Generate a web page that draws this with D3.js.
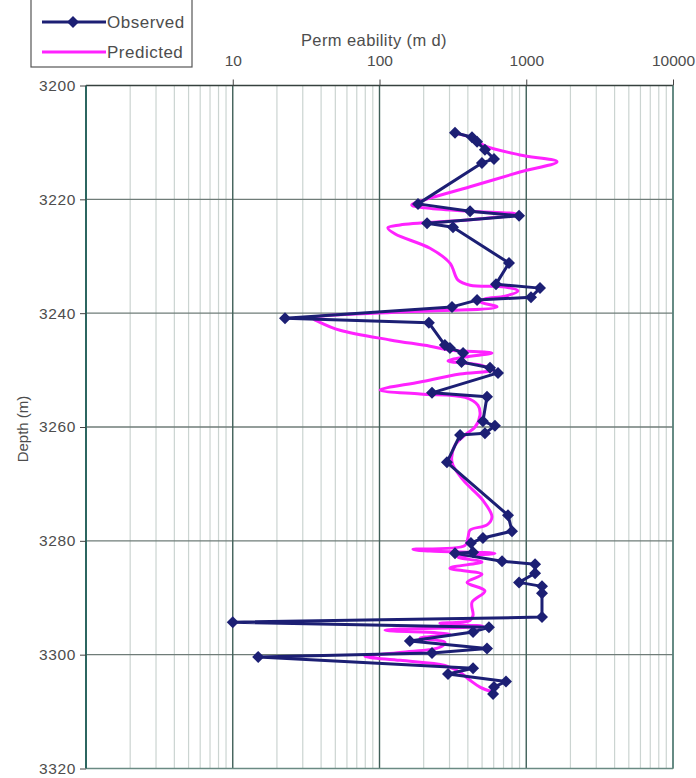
<!DOCTYPE html>
<html>
<head>
<meta charset="utf-8">
<script src="https://cdn.jsdelivr.net/npm/d3@7"></script>
<style>
  html, body { margin: 0; padding: 0; background: #fff; }
  svg { display: block; font-family: "Liberation Sans", Arial, sans-serif; }
</style>
</head>
<body>
<svg id="chart" width="696" height="778"></svg>
<script>
// Observed core permeability (md) against depth (m)
const obsDepth = [3208.3, 3209.1, 3209.9, 3211.3, 3212.9, 3213.6, 3220.8, 3222.1, 3222.9, 3224.2,
  3224.9, 3231.2, 3234.9, 3235.6, 3237.2, 3237.7, 3238.9, 3240.9, 3241.7, 3245.6,
  3246.1, 3247.0, 3248.6, 3249.6, 3250.5, 3254.0, 3254.7, 3259.0, 3259.8, 3261.1,
  3261.4, 3266.2, 3275.5, 3278.3, 3279.5, 3280.4, 3282.0, 3282.2, 3283.6, 3284.1,
  3285.7, 3287.3, 3288.0, 3289.2, 3293.4, 3294.3, 3295.2, 3296.0, 3297.6, 3298.9,
  3299.7, 3300.4, 3302.4, 3303.4, 3304.7, 3305.7, 3306.9];
const obsPerm = [327, 427, 462, 523, 603, 499, 183, 414, 893, 211,
  317, 763, 622, 1241, 1077, 462, 312, 22.7, 217, 279,
  302, 371, 362, 566, 642, 228, 540, 507, 612, 523,
  354, 288, 751, 800, 507, 420, 434, 327, 684, 1148,
  1148, 893, 1280, 1280, 1280, 10.0, 557, 434, 161, 540,
  228, 14.9, 434, 293, 728, 603, 594];

// Predicted permeability log (md) against depth (m)
const predDepth = [3208.5, 3209.2, 3210.6, 3212.2, 3213.4, 3215.2, 3217.8, 3219.8, 3221.0, 3221.5,
  3222.1, 3222.6, 3223.6, 3224.5, 3225.0, 3226.1, 3228.6, 3231.2, 3234.2, 3235.1,
  3235.4, 3236.1, 3237.0, 3237.5, 3238.0, 3238.9, 3239.8, 3240.9, 3241.6, 3243.0,
  3244.7, 3245.8, 3246.5, 3247.0, 3247.7, 3248.4, 3249.1, 3250.0, 3250.7, 3252.1,
  3253.5, 3254.2, 3254.8, 3256.2, 3257.9, 3260.0, 3261.4, 3263.2, 3266.2, 3269.3,
  3272.9, 3275.8, 3277.2, 3278.1, 3279.4, 3280.8, 3281.5, 3281.8, 3282.2, 3282.9,
  3283.7, 3284.8, 3285.9, 3287.3, 3288.8, 3290.8, 3293.1, 3294.0, 3294.5, 3295.0,
  3295.7, 3296.4, 3297.1, 3297.8, 3298.7, 3299.6, 3300.3, 3301.0, 3301.9, 3303.1,
  3304.5, 3305.7, 3306.6];
const predPerm = [343, 427, 523, 906, 1621, 906, 414, 221, 166, 204,
  414, 865, 414, 138, 114, 128, 221, 302, 343, 414,
  717, 879, 717, 523, 484, 632, 138, 35.2, 39.3, 53.8,
  118, 221, 302, 584, 383, 293, 484, 584, 354, 189,
  101, 189, 383, 469, 484, 448, 383, 327, 312, 371,
  507, 584, 540, 414, 401, 383, 169, 221, 612, 343,
  499, 302, 499, 395, 523, 427, 434, 414, 258, 507,
  109, 302, 189, 279, 258, 138, 79.6, 138, 279, 354,
  414, 484, 594];

// Axis ticks
const depthTicks = [3200, 3220, 3240, 3260, 3280, 3300, 3320];
const permTicks = [10, 100, 1000, 10000];
const permTickLabels = ["10", "100", "1000", "10000"];

const seriesNames = ["Observed", "Predicted"];

const svg = d3.select("#chart");
const plotLeft = 86, plotRight = 673, plotTop = 85.5, plotBottom = 768.5;

const x = d3.scaleLog().domain([1, 10000]).range([plotLeft, plotRight]);
const y = d3.scaleLinear().domain([3200, 3320]).range([plotTop, plotBottom]);

const obsColor = "#1c1f74";
const predColor = "#ff22ff";
const textColor = "#4d4d4d";

// Minor vertical gridlines (2..9 within each decade)
const minor = [];
for (let k = 0; k < 4; k++) for (let m = 2; m <= 9; m++) minor.push(m * Math.pow(10, k));
svg.append("g").selectAll("line").data(minor).join("line")
  .attr("x1", d => x(d)).attr("x2", d => x(d))
  .attr("y1", plotTop).attr("y2", plotBottom)
  .attr("stroke", "#cbd4d1").attr("stroke-width", 1.2);

// Horizontal gridlines
svg.append("g").selectAll("line").data(depthTicks.slice(1, -1)).join("line")
  .attr("x1", plotLeft).attr("x2", plotRight)
  .attr("y1", d => y(d)).attr("y2", d => y(d))
  .attr("stroke", "#6f7c78").attr("stroke-width", 1.3);

// Major vertical gridlines
svg.append("g").selectAll("line").data(permTicks).join("line")
  .attr("x1", d => x(d)).attr("x2", d => x(d))
  .attr("y1", plotTop).attr("y2", plotBottom)
  .attr("stroke", "#3f5f58").attr("stroke-width", 1.4);

// Frame
svg.append("line").attr("x1", plotLeft).attr("x2", plotRight).attr("y1", plotTop).attr("y2", plotTop)
  .attr("stroke", "#36413e").attr("stroke-width", 1.6);
svg.append("line").attr("x1", plotLeft).attr("x2", plotRight).attr("y1", plotBottom).attr("y2", plotBottom)
  .attr("stroke", "#6a8a83").attr("stroke-width", 1.6);
svg.append("line").attr("x1", plotLeft).attr("x2", plotLeft).attr("y1", plotTop).attr("y2", plotBottom)
  .attr("stroke", "#2c6660").attr("stroke-width", 2);
svg.append("line").attr("x1", plotRight).attr("x2", plotRight).attr("y1", plotTop).attr("y2", plotBottom)
  .attr("stroke", "#5f8a82").attr("stroke-width", 1.4);

// Left depth axis
const yAxis = d3.axisLeft(y).tickValues(depthTicks).tickSize(6).tickPadding(4).tickFormat(d3.format("d"));
const gy = svg.append("g").attr("transform", `translate(${plotLeft},0)`).call(yAxis);
gy.select(".domain").remove();
gy.selectAll("line").attr("stroke", "#444");
gy.selectAll("text").attr("fill", textColor).style("font-size", "15.5px")
  .attr("font-family", "Liberation Sans, Arial, sans-serif").attr("letter-spacing", "0.6");

// Top permeability axis
const xAxis = d3.axisTop(x).tickValues(permTicks).tickSize(6).tickPadding(14)
  .tickFormat((d, i) => permTickLabels[i]);
const gx = svg.append("g").attr("transform", `translate(0,${plotTop})`).call(xAxis);
gx.select(".domain").remove();
gx.selectAll("line").attr("stroke", "#444");
gx.selectAll("text").attr("fill", textColor).style("font-size", "15.5px")
  .attr("font-family", "Liberation Sans, Arial, sans-serif");

// Axis titles
svg.append("text").attr("x", 374).attr("y", 46).attr("text-anchor", "middle")
  .attr("fill", textColor).style("font-size", "16.5px").attr("letter-spacing", "0.4")
  .text("Perm eability (m d)");
svg.append("text").attr("transform", `translate(28,${(plotTop + plotBottom) / 2 + 2}) rotate(-90)`)
  .attr("text-anchor", "middle").attr("fill", textColor).style("font-size", "15px").text("Depth (m)");

// Series
const obs = obsDepth.map((d, i) => ({ depth: d, perm: obsPerm[i] }));
const pred = predDepth.map((d, i) => ({ depth: d, perm: predPerm[i] }));

const predLine = d3.line().x(d => x(d.perm)).y(d => y(d.depth)).curve(d3.curveCatmullRom.alpha(0.5));
const obsLine = d3.line().x(d => x(d.perm)).y(d => y(d.depth));

svg.append("path").datum(pred).attr("d", predLine)
  .attr("fill", "none").attr("stroke", predColor).attr("stroke-width", 3).attr("stroke-linejoin", "round");
svg.append("path").datum(obs).attr("d", obsLine)
  .attr("fill", "none").attr("stroke", obsColor).attr("stroke-width", 3).attr("stroke-linejoin", "round");

const marker = d3.symbol(d3.symbolSquare, 72);
svg.append("g").selectAll("path").data(obs).join("path")
  .attr("d", marker)
  .attr("transform", d => `translate(${x(d.perm)},${y(d.depth)}) rotate(45)`)
  .attr("fill", obsColor);

// Legend
const lg = svg.append("g");
lg.append("rect").attr("x", 31).attr("y", -3).attr("width", 161).attr("height", 70)
  .attr("fill", "#fff").attr("stroke", "#555").attr("stroke-width", 1.2);
const legendItems = [
  { name: seriesNames[0], color: obsColor, mark: true, yy: 22 },
  { name: seriesNames[1], color: predColor, mark: false, yy: 52 }
];
legendItems.forEach(it => {
  lg.append("line").attr("x1", 42).attr("x2", 106).attr("y1", it.yy).attr("y2", it.yy)
    .attr("stroke", it.color).attr("stroke-width", 3);
  if (it.mark) {
    lg.append("path").attr("d", marker).attr("transform", `translate(73,${it.yy}) rotate(45)`).attr("fill", it.color);
  }
  lg.append("text").attr("x", 107).attr("y", it.yy + 6).attr("fill", textColor)
    .style("font-size", "17px").attr("letter-spacing", "0.5").text(it.name);
});
</script>
</body>
</html>
